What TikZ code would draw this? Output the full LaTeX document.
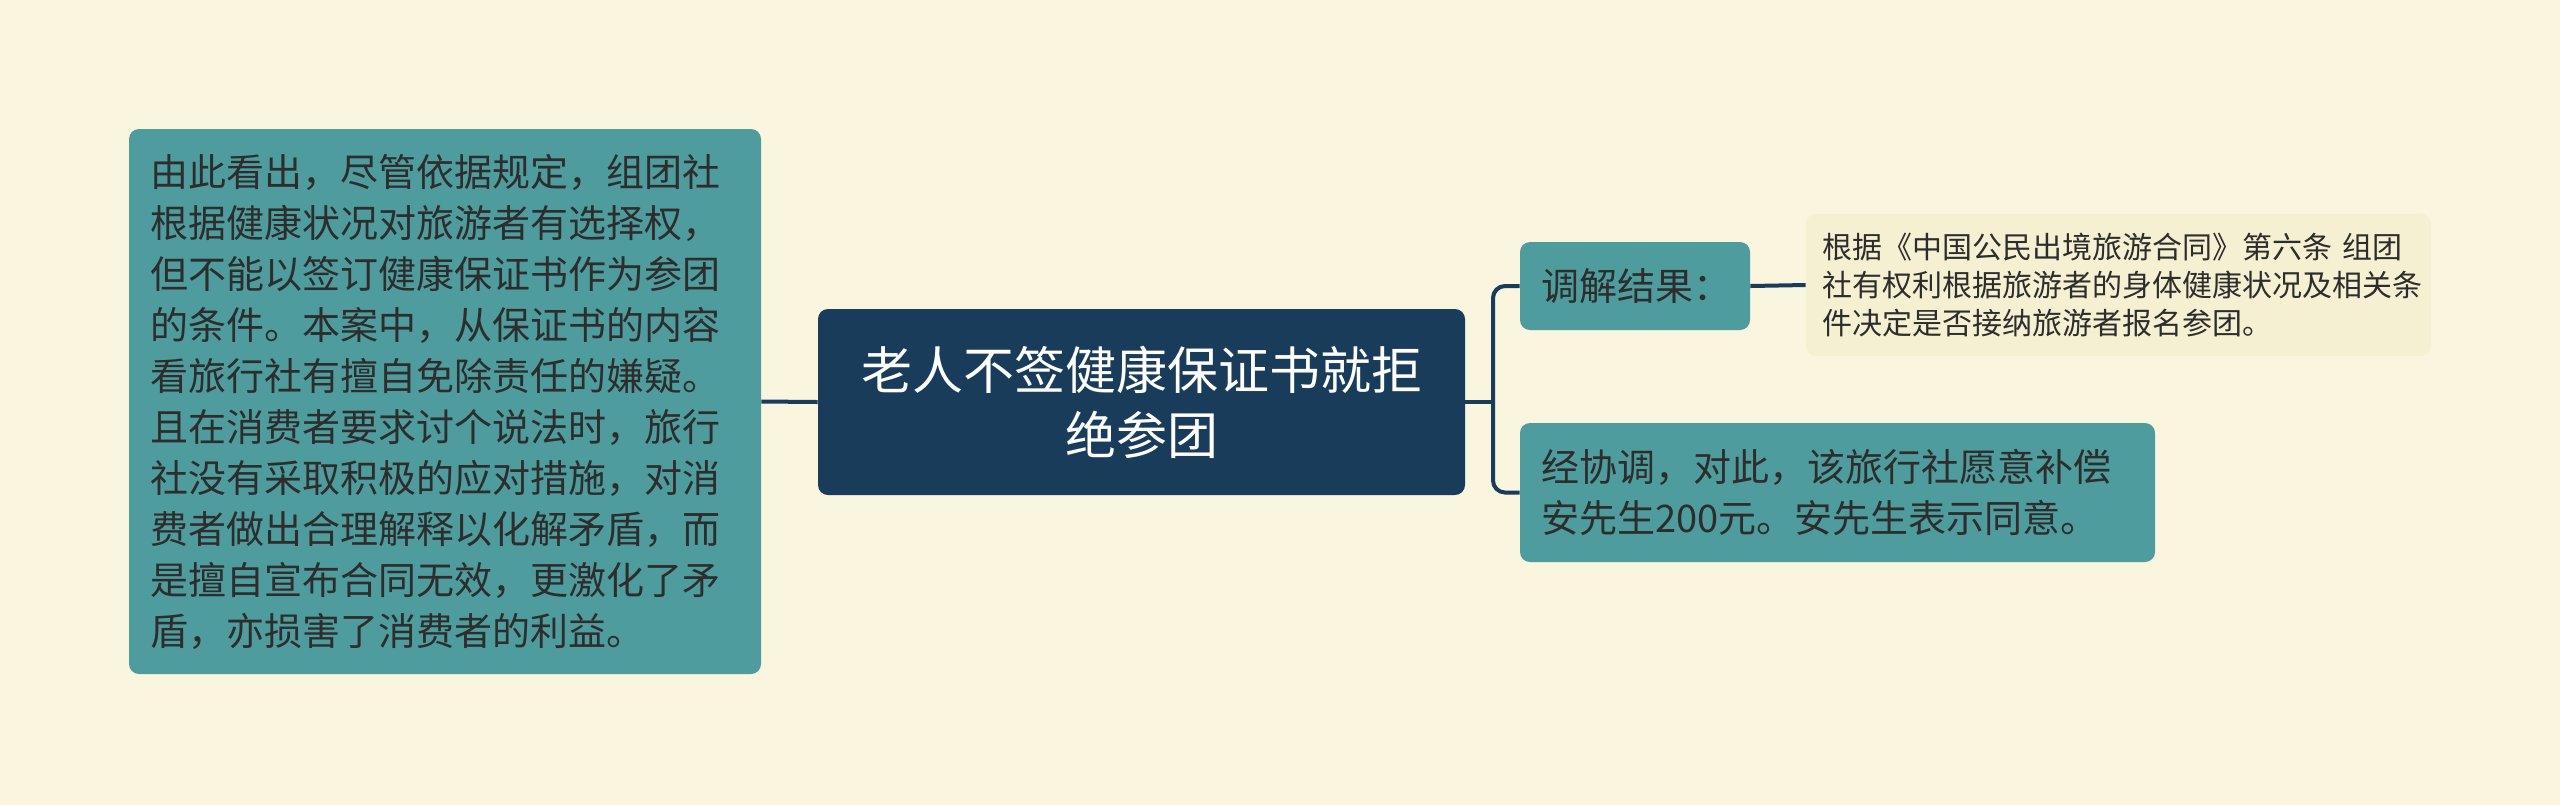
\documentclass[tikz,border=0pt]{standalone}
\usepackage{fontspec}
\setmainfont{Noto Sans CJK SC}
\definecolor{bgcol}{RGB}{250,245,222}
\definecolor{navy}{RGB}{24,60,90}
\definecolor{teal}{RGB}{78,156,158}
\definecolor{notecol}{RGB}{246,240,210}
\definecolor{ink}{RGB}{45,45,45}
\tikzset{
  box/.style={draw=none, rounded corners=5pt, inner sep=0pt, align=left},
  leaf/.style={box, fill=teal, text=ink, font=\fontsize{19pt}{25.5pt}\selectfont},
  link/.style={draw=navy, line width=2pt}
}
\begin{document}
\begin{tikzpicture}[x=0.5pt,y=-0.5pt]
    \fill[bgcol] (0,0) rectangle (2560,805);
    \useasboundingbox (0,0) rectangle (2560,805);

    \node[box, fill=navy, text=white, align=center, minimum width=323.5pt, minimum height=93pt,
          font=\fontsize{25.5pt}{32.5pt}\selectfont] (main) at (1141.5,402) {老人不签健康保证书就拒\\绝参团};

    \node[leaf, minimum width=316pt, minimum height=272.5pt, text width=295pt] (left) at (445,401.5)
      {由此看出，尽管依据规定，组团社\\根据健康状况对旅游者有选择权，\\但不能以签订健康保证书作为参团\\的条件。本案中，从保证书的内容\\看旅行社有擅自免除责任的嫌疑。\\且在消费者要求讨个说法时，旅行\\社没有采取积极的应对措施，对消\\费者做出合理解释以化解矛盾，而\\是擅自宣布合同无效，更激化了矛\\盾，亦损害了消费者的利益。};

    \node[leaf, minimum width=115pt, minimum height=44pt, text width=94pt] (res) at (1635,286) {调解结果：};

    \node[leaf, minimum width=317.5pt, minimum height=69.5pt, text width=296pt] (deal) at (1837.5,492.5)
      {经协调，对此，该旅行社愿意补偿\\安先生200元。安先生表示同意。};

    \node[box, fill=notecol, text=ink, minimum width=312.5pt, minimum height=71pt, text width=296pt,
          font=\fontsize{15pt}{19pt}\selectfont] (note) at (2118.5,285)
      {根据《中国公民出境旅游合同》第六条 组团\\社有权利根据旅游者的身体健康状况及相关条\\件决定是否接纳旅游者报名参团。};

    \coordinate (fork) at (1493,402);
    \draw[link] (main.west) -- (left.east);
    \draw[link] (main.east) -- (fork);
    \draw[link, rounded corners=6pt] (fork) |- (res.west);
    \draw[link, rounded corners=6pt] (fork) |- (deal.west);
    \draw[link] (res.east) -- (note.west);
\end{tikzpicture}
\end{document}
